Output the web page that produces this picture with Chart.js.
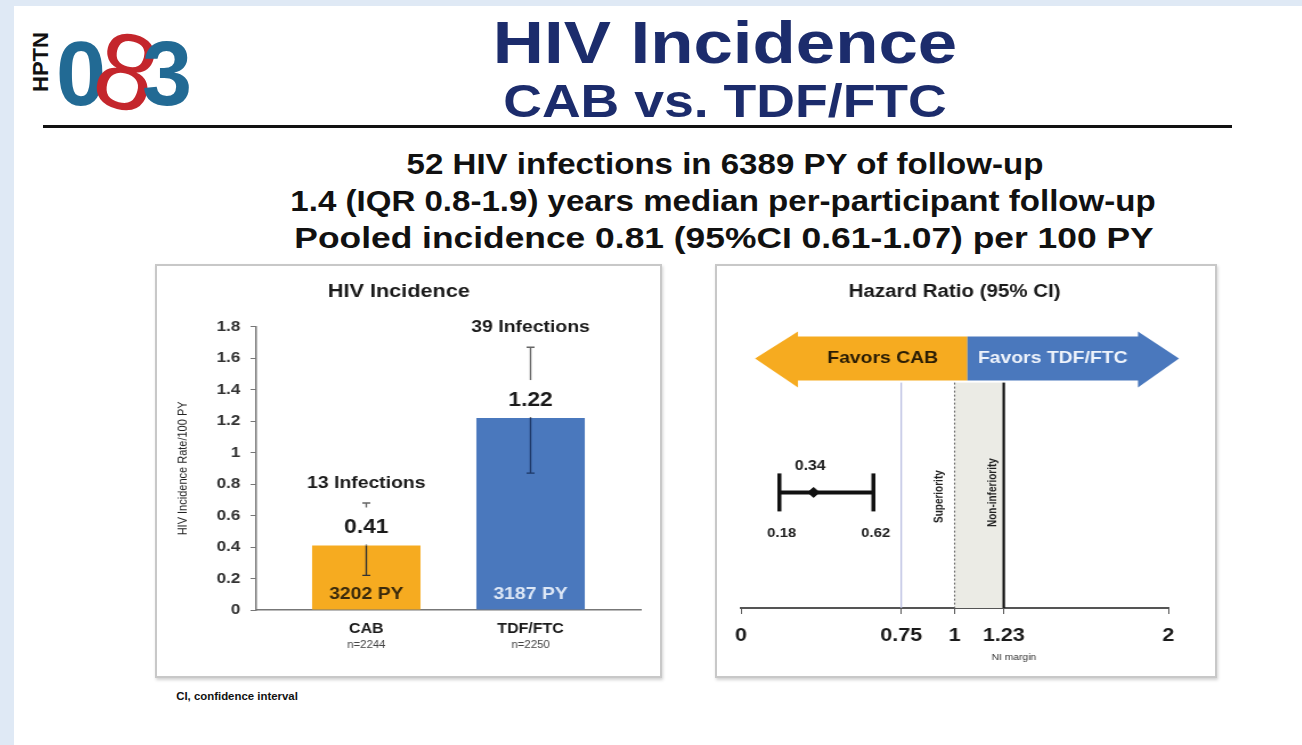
<!DOCTYPE html>
<html>
<head>
<meta charset="utf-8">
<script src="https://cdn.jsdelivr.net/npm/chart.js@4.4.1/dist/chart.umd.min.js"></script>
<style>
html, body { margin: 0; padding: 0; }
body { width: 1302px; height: 745px; background: #dfe9f5; position: relative; overflow: hidden; font-family: 'Liberation Sans', Arial, sans-serif; color: #111; }
#slide { position: absolute; left: 14px; top: 6px; width: 1288px; height: 739px; background: #fff; }
.c { position: absolute; transform: translate(-50%, -50%) scaleX(1.14); white-space: nowrap; font-weight: bold; line-height: 1; }
.panel { position: absolute; box-sizing: border-box; border: 2px solid #c8c8c8; box-shadow: 1px 2px 3px rgba(0,0,0,0.18); background: #fff; }
canvas { position: absolute; }
.logo { position: absolute; font-family: 'Liberation Sans Narrow', 'Liberation Sans', sans-serif; font-weight: bold; line-height: 1; }
</style>
</head>
<body>
<div id="slide"></div>

<!-- logo -->
<div class="logo" style="left:41px;top:62px;font-size:22px;transform:translate(-50%,-50%) rotate(-90deg);color:#111;">HPTN</div>
<div class="logo" style="left:56px;top:29px;font-size:90px;color:#226a94;">0</div>
<div class="logo" style="left:96px;top:18px;font-size:108px;font-weight:normal;color:#c4262c;transform:rotate(14deg);">8</div>
<div class="logo" style="left:142px;top:29px;font-size:90px;color:#226a94;">3</div>

<!-- headings -->
<div class="c" style="left:725px;top:43px;font-size:60px;color:#1c2c6c;transform:translate(-50%,-50%) scaleX(1.18);">HIV Incidence</div>
<div class="c" style="left:725px;top:101px;font-size:46px;color:#1c2c6c;transform:translate(-50%,-50%) scaleX(1.165);">CAB vs. TDF/FTC</div>
<div style="position:absolute;left:43px;top:125px;width:1189px;height:3px;background:#111;"></div>
<div class="c" style="left:725px;top:164px;font-size:29px;">52 HIV infections in 6389 PY of follow-up</div>
<div class="c" style="left:723px;top:201px;font-size:29px;">1.4 (IQR 0.8-1.9) years median per-participant follow-up</div>
<div class="c" style="left:724px;top:238px;font-size:29px;transform:translate(-50%,-50%) scaleX(1.22);">Pooled incidence 0.81 (95%CI 0.61-1.07) per 100 PY</div>

<div class="panel" style="left:155px;top:264px;width:507px;height:414px;"></div>
<div class="panel" style="left:715px;top:264px;width:502px;height:414px;"></div>
<!-- slide image is stretched horizontally: canvases are drawn narrow and widened by CSS -->
<canvas id="incidence" width="441" height="408" style="left:157px;top:266px;width:503px;height:408px;"></canvas>
<canvas id="hazard" width="437" height="409" style="left:717px;top:266px;width:498px;height:409px;"></canvas>

<div class="c" style="left:237px;top:697px;font-size:10px;">CI, confidence interval</div>

<script>
'use strict';

// Incidence panel
const CATEGORIES = ['CAB', 'TDF/FTC'];
const SAMPLE_N = [2244, 2250];
const RATES = [0.41, 1.22];
const CI_LOW = [0.22, 0.87];
const CI_HIGH = [0.68, 1.67];
const INFECTIONS = [13, 39];
const PERSON_YEARS = [3202, 3187];

// Hazard ratio panel
const HR = 0.34;
const HR_CI = [0.18, 0.62];
const HR_TICKS = [0, 0.75, 1, 1.23, 2];
const REF_LINE = 0.75;
const SUPERIORITY = 1;
const NI_MARGIN = 1.23;

const ORANGE = '#f6ab20';
const BLUE = '#4a78bd';
const FONT = "'Liberation Sans', Arial, sans-serif";

Chart.defaults.font.family = FONT;
Chart.defaults.color = '#222';

let whisker = (ctx, x, from, to, color) => {
    ctx.strokeStyle = color;
    ctx.lineWidth = 1.4;
    ctx.beginPath();
    ctx.moveTo(x, from);
    ctx.lineTo(x, to);
    ctx.moveTo(x - 3.5, to);
    ctx.lineTo(x + 3.5, to);
    ctx.stroke();
};

let label = (ctx, text, x, y, size, color, weight = 'bold') => {
    ctx.font = `${weight} ${size}px ${FONT}`;
    ctx.fillStyle = color;
    ctx.textAlign = 'center';
    ctx.textBaseline = 'middle';
    ctx.fillText(text, x, y);
};

const barDecor = {
    id: 'barDecor',
    afterDatasetsDraw(chart) {
        const {ctx, chartArea, scales: {x, y}} = chart;
        const inColors = ['#333', '#1d3766'];
        const pyColors = ['#3a2a0c', '#dde7f6'];
        ctx.save();
        CATEGORIES.forEach((cat, i) => {
            const cx = x.getPixelForValue(i);
            const top = y.getPixelForValue(RATES[i]);
            whisker(ctx, cx, top, y.getPixelForValue(CI_LOW[i]), inColors[i]);
            whisker(ctx, cx, top, y.getPixelForValue(CI_HIGH[i]), '#666');
            ctx.fillStyle = '#fff';
            ctx.fillRect(cx - 26, top - 38, 52, 37);
            label(ctx, RATES[i].toFixed(2), cx, top - 18, 20, '#1a1a1a');
            label(ctx, `${INFECTIONS[i]} Infections`, cx, y.getPixelForValue(CI_HIGH[i]) - 20, 17, '#1a1a1a');
            label(ctx, `${PERSON_YEARS[i]} PY`, cx, chartArea.bottom - 16, 17, pyColors[i]);
            label(ctx, `n=${SAMPLE_N[i]}`, cx, chartArea.bottom + 35, 10, '#444', 'normal');
        });
        ctx.restore();
    }
};

const forestDecor = {
    id: 'forestDecor',
    beforeDatasetsDraw(chart) {
        const {ctx, chartArea: {top, bottom}, scales: {x}} = chart;
        const xs = x.getPixelForValue(SUPERIORITY);
        const xn = x.getPixelForValue(NI_MARGIN);
        ctx.save();
        ctx.fillStyle = '#ebebe5';
        ctx.fillRect(xs, top, xn - xs, bottom - top);

        ctx.strokeStyle = '#b9bde0';
        ctx.lineWidth = 1.3;
        ctx.beginPath();
        ctx.moveTo(x.getPixelForValue(REF_LINE), top);
        ctx.lineTo(x.getPixelForValue(REF_LINE), bottom);
        ctx.stroke();

        ctx.strokeStyle = '#666';
        ctx.lineWidth = 1.1;
        ctx.setLineDash([2, 2]);
        ctx.beginPath();
        ctx.moveTo(xs, top);
        ctx.lineTo(xs, bottom);
        ctx.stroke();
        ctx.setLineDash([]);

        ctx.strokeStyle = '#111';
        ctx.lineWidth = 2.2;
        ctx.beginPath();
        ctx.moveTo(xn, top);
        ctx.lineTo(xn, bottom);
        ctx.stroke();

        // rotated margin labels
        [['Superiority', xs - 13, 114], ['Non-inferiority', xn - 9, 110]].forEach(([t, px, dy]) => {
            ctx.save();
            ctx.translate(px, top + dy);
            ctx.rotate(-Math.PI / 2);
            label(ctx, t, 0, 0, 10, '#222');
            ctx.restore();
        });

        // favours arrows
        const tipL = x.getPixelForValue(0.066);
        const split = x.getPixelForValue(1.06);
        const tipR = x.getPixelForValue(2.05);
        const hl = 37.7, hr = 36;
        const sT = top - 46, sB = top - 2, hT = top - 51, hB = top + 5, mid = top - 24;
        ctx.fillStyle = ORANGE;
        ctx.beginPath();
        ctx.moveTo(tipL, mid);
        ctx.lineTo(tipL + hl, hT);
        ctx.lineTo(tipL + hl, sT);
        ctx.lineTo(split, sT);
        ctx.lineTo(split, sB);
        ctx.lineTo(tipL + hl, sB);
        ctx.lineTo(tipL + hl, hB);
        ctx.closePath();
        ctx.fill();
        ctx.fillStyle = BLUE;
        ctx.beginPath();
        ctx.moveTo(split, sT);
        ctx.lineTo(tipR - hr, sT);
        ctx.lineTo(tipR - hr, hT);
        ctx.lineTo(tipR, mid);
        ctx.lineTo(tipR - hr, hB);
        ctx.lineTo(tipR - hr, sB);
        ctx.lineTo(split, sB);
        ctx.closePath();
        ctx.fill();
        label(ctx, 'Favors CAB', (tipL + hl + split) / 2, mid, 17, '#2a1d05');
        label(ctx, 'Favors TDF/FTC', (split + tipR - hr) / 2, mid, 17, '#eef3fb');
        ctx.restore();
    },
    afterDatasetsDraw(chart) {
        const {ctx, chartArea: {bottom}, scales: {x, y}} = chart;
        const py = y.getPixelForValue(1);
        ctx.save();
        ctx.strokeStyle = '#111';
        ctx.lineWidth = 3.5;
        HR_CI.forEach(v => {
            const px = x.getPixelForValue(v);
            ctx.beginPath();
            ctx.moveTo(px, py - 19);
            ctx.lineTo(px, py + 19);
            ctx.stroke();
            label(ctx, v.toFixed(2), px + 2, py + 41, 13, '#222');
        });
        label(ctx, HR.toFixed(2), x.getPixelForValue(HR) - 3, py - 26, 14, '#222');
        label(ctx, 'NI margin', x.getPixelForValue(NI_MARGIN) + 9, bottom + 50, 9, '#333', 'normal');
        ctx.restore();
    }
};

let incidenceChart = () => {
    const DOM = document.getElementById('incidence');
    new Chart(DOM, {
        type: 'bar',
        data: {
            datasets: [{
                data: RATES.map((v, i) => ({x: i, y: v})),
                backgroundColor: [ORANGE, BLUE],
                categoryPercentage: 1,
                barPercentage: 0.66
            }]
        },
        options: {
            responsive: false,
            animation: false,
            layout: {padding: {left: 0, right: 17, top: 0, bottom: 0}},
            plugins: {
                legend: {display: false},
                tooltip: {enabled: false},
                title: {display: true, text: 'HIV Incidence', color: '#1a1a1a',
                    font: {size: 19, weight: 'bold'}, padding: {top: 14, bottom: 24}}
            },
            scales: {
                x: {
                    type: 'linear', min: -0.67, max: 1.67, offset: false,
                    afterBuildTicks: s => { s.ticks = CATEGORIES.map((c, i) => ({value: i})); },
                    afterFit: s => { s.height = 64; },
                    ticks: {callback: v => CATEGORIES[v], font: {size: 14, weight: 'bold'}, color: '#1a1a1a', padding: 11},
                    grid: {drawOnChartArea: false, drawTicks: false},
                    border: {color: '#777', width: 1.5}
                },
                y: {
                    min: 0, max: 1.8,
                    afterFit: s => { s.width = 87; },
                    ticks: {stepSize: 0.2, callback: v => String(+v.toFixed(1)),
                        font: {size: 15, weight: 'bold'}, color: '#333', padding: 9},
                    grid: {drawOnChartArea: false, tickLength: 5, color: '#777'},
                    border: {color: '#777', width: 1.5},
                    title: {display: true, text: 'HIV Incidence Rate/100 PY', font: {size: 11}, color: '#222', padding: {top: 16}}
                }
            }
        },
        plugins: [barDecor]
    });
};

let hazardChart = () => {
    const DOM = document.getElementById('hazard');
    new Chart(DOM, {
        data: {
            datasets: [{
                type: 'line',
                data: HR_CI.map(v => ({x: v, y: 1})),
                borderColor: '#111',
                borderWidth: 4,
                pointRadius: 0
            }, {
                type: 'scatter',
                data: [{x: HR, y: 1}],
                pointStyle: 'rectRot',
                pointRadius: 5,
                backgroundColor: '#111',
                borderColor: '#111'
            }]
        },
        options: {
            responsive: false,
            animation: false,
            layout: {padding: {left: 21, right: 41, top: 0, bottom: 0}},
            plugins: {
                legend: {display: false},
                tooltip: {enabled: false},
                title: {display: true, text: 'Hazard Ratio (95% CI)', color: '#1a1a1a',
                    font: {size: 18, weight: 'bold'}, padding: {top: 15, bottom: 80}}
            },
            scales: {
                x: {
                    type: 'linear', min: 0, max: 2,
                    afterBuildTicks: s => { s.ticks = HR_TICKS.map(v => ({value: v})); },
                    afterFit: s => { s.height = 67; },
                    ticks: {callback: v => String(v), font: {size: 19, weight: 'bold'}, color: '#1a1a1a', padding: 10},
                    grid: {drawOnChartArea: false, tickLength: 6, color: '#555'},
                    border: {color: '#555', width: 2}
                },
                y: {display: false, min: 0, max: 1.95}
            }
        },
        plugins: [forestDecor]
    });
};

window.onload = () => {
    incidenceChart();
    hazardChart();
};
</script>
</body>
</html>
